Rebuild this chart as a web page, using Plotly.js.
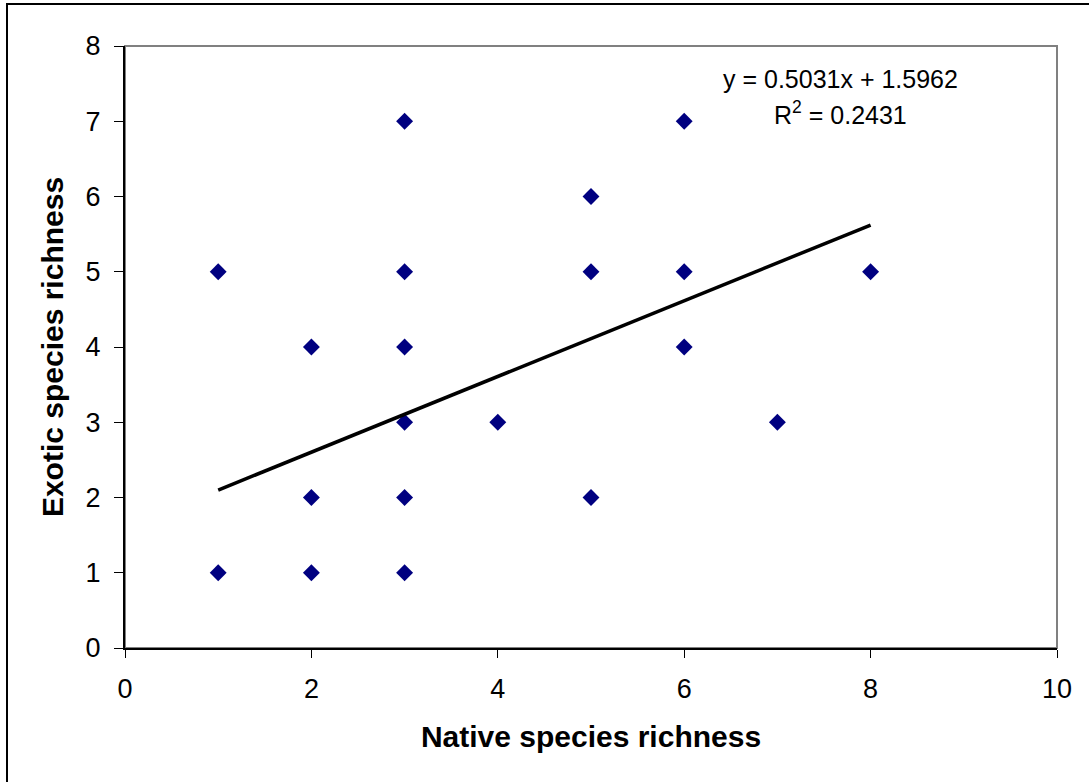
<!DOCTYPE html>
<html>
<head>
<meta charset="utf-8">
<script src="https://cdn.plot.ly/plotly-3.0.1.min.js"></script>
<style>html,body{margin:0;padding:0;background:#fff;}#chart{width:1089px;height:782px;}</style>
</head>
<body>
<div id="chart"></div>
<script>
// Data
const nativeRichness = [1, 1, 2, 2, 2, 3, 3, 3, 3, 3, 3, 4, 5, 5, 5, 6, 6, 6, 7, 8];
const exoticRichness = [5, 1, 4, 2, 1, 7, 5, 4, 3, 2, 1, 3, 6, 5, 2, 7, 5, 4, 3, 5];
const trendSlope = 0.5031;
const trendIntercept = 1.5962;
const rSquared = 0.2431;
const xTickVals = [0, 2, 4, 6, 8, 10];
const yTickVals = [0, 1, 2, 3, 4, 5, 6, 7, 8];

const xMin = Math.min(...nativeRichness), xMax = Math.max(...nativeRichness);
const trendX = [xMin, xMax];
const trendY = trendX.map(v => trendSlope * v + trendIntercept);

const font = "Liberation Sans, Arial, sans-serif";

const traces = [
  {
    x: nativeRichness, y: exoticRichness, type: 'scatter', mode: 'markers',
    marker: {symbol: 'diamond', size: 13, color: '#000080', line: {width: 0}},
    cliponaxis: false, showlegend: false, hoverinfo: 'x+y'
  },
  {
    x: trendX, y: trendY, type: 'scatter', mode: 'lines',
    line: {color: '#000000', width: 3.5}, showlegend: false
  }
];

const W = 1089, H = 782;
const L = 125, R = 1057, T = 46, B = 648;
const pw = R - L, ph = B - T;
const px = v => (v - L) / pw;
const py = v => (B - v) / ph;

const layout = {
  width: W, height: H,
  margin: {l: L, r: W - R, t: T, b: H - B},
  paper_bgcolor: '#ffffff', plot_bgcolor: '#ffffff',
  font: {family: font, color: '#000000', size: 27},
  xaxis: {
    range: [0, 10], tickvals: xTickVals, ticks: 'outside', ticklen: 8, tickwidth: 1, tickcolor: '#000',
    showgrid: false, zeroline: false, showline: true, linecolor: '#000', linewidth: 2,
    tickfont: {size: 27, family: font}, ticklabelstandoff: 8,
    title: {text: '<b>Native species richness</b>', font: {size: 30, family: font}, standoff: 23}
  },
  yaxis: {
    range: [0, 8], tickvals: yTickVals, ticks: 'outside', ticklen: 9, tickwidth: 1, tickcolor: '#000',
    showgrid: false, zeroline: false, showline: true, linecolor: '#000', linewidth: 2,
    tickfont: {size: 27, family: font}, ticklabelstandoff: 8,
    title: {text: '<b>Exotic species richness</b>', font: {size: 30, family: font}, standoff: 13}
  },
  shapes: [
    {type: 'rect', xref: 'paper', yref: 'paper', x0: 0, x1: 1, y0: 0, y1: 1,
     line: {color: '#808080', width: 2}, layer: 'below'},
    {type: 'rect', xref: 'paper', yref: 'paper', x0: px(7), x1: px(1200), y0: py(900), y1: py(4),
     line: {color: '#000000', width: 2}, layer: 'below'}
  ],
  annotations: [
    {xref: 'paper', yref: 'paper', x: px(840), y: py(79), xanchor: 'center', yanchor: 'middle',
     text: 'y = ' + trendSlope.toFixed(4) + 'x + ' + trendIntercept.toFixed(4), showarrow: false,
     font: {size: 25, family: font}},
    {xref: 'paper', yref: 'paper', x: px(840), y: py(113), xanchor: 'center', yanchor: 'middle',
     text: 'R<sup>2</sup> = ' + rSquared.toFixed(4), showarrow: false,
     font: {size: 25, family: font}}
  ]
};

Plotly.newPlot('chart', traces, layout, {displayModeBar: false, staticPlot: true});
</script>
</body>
</html>
